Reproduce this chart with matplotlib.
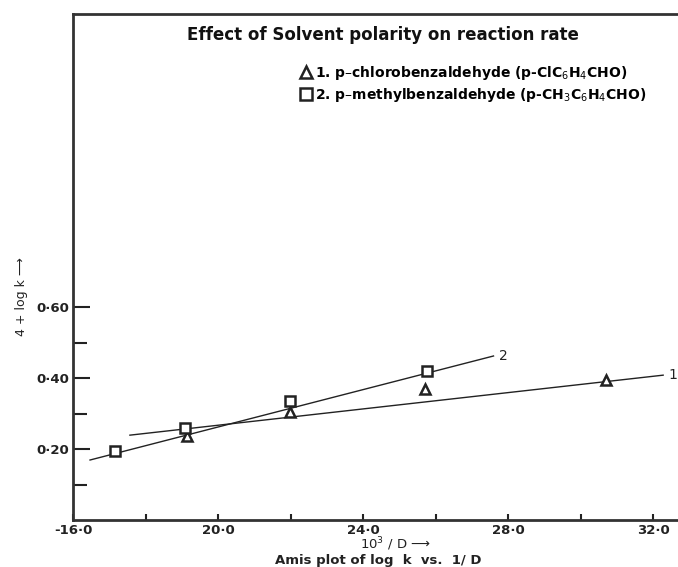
import matplotlib
matplotlib.use("Agg")
import matplotlib.pyplot as plt
from matplotlib.lines import Line2D

# ---- data ----
tri_x = [19.14, 21.99, 25.71, 30.7]
tri_y = [0.237, 0.304, 0.369, 0.394]
sq_x = [17.16, 19.09, 21.99, 25.77]
sq_y = [0.194, 0.259, 0.335, 0.420]
line1_x = [17.57, 32.28]
line1_y = [0.239, 0.408]
line2_x = [16.47, 27.6]
line2_y = [0.169, 0.462]
x_major = [16, 20, 24, 28, 32]
x_labels = ["-16·0", "20·0", "24·0", "28·0", "32·0"]
x_minor = [18, 22, 26, 30]
y_major = [0.2, 0.4, 0.6]
y_labels = ["0·20", "0·40", "0·60"]
y_minor = [0.1, 0.3, 0.5]

plt.rcParams['font.family'] = ['DejaVu Sans']
plt.rcParams['mathtext.fontset'] = 'dejavusans'
fig = plt.figure(figsize=(6.78, 5.67), dpi=100)
ax = fig.add_axes([73/678, 47/567, 605/678, 506/567])
ax.set_xlim(16, 16 + 605/36.25)
ax.set_ylim(0, 506/355)

ink = '#222222'
ax.plot(line1_x, line1_y, color=ink, lw=1.0)
ax.plot(line2_x, line2_y, color=ink, lw=1.0)
ax.plot(tri_x, tri_y, ls='none', marker='^', ms=7, mfc='white', mec=ink, mew=1.8)
ax.plot(sq_x, sq_y, ls='none', marker='s', ms=7, mfc='white', mec=ink, mew=1.8)
ax.text(line1_x[-1] + 0.15, line1_y[-1], "1", fontsize=10, va='center', ha='left', color=ink)
ax.text(line2_x[-1] + 0.15, line2_y[-1], "2", fontsize=10, va='center', ha='left', color=ink)

for s in ['right']:
    ax.spines[s].set_visible(False)
for s in ['left', 'bottom', 'top']:
    ax.spines[s].set_linewidth(2.0)
    ax.spines[s].set_color('#333333')

ax.set_xticks(x_major)
ax.set_xticklabels(x_labels, fontsize=9.5, fontweight='bold')
ax.set_xticks(x_minor, minor=True)
ax.set_yticks(y_major)
ax.set_yticklabels(y_labels, fontsize=9.5, fontweight='bold')
ax.set_yticks(y_minor, minor=True)
ax.tick_params(axis='x', which='both', direction='in', length=4, width=1.5, pad=3, colors=ink)
ax.tick_params(axis='y', which='major', direction='in', length=12, width=1.5, pad=3, colors=ink)
ax.tick_params(axis='y', which='minor', direction='in', length=10, width=1.5, colors=ink)

fig.text(22/678, 1 - 297/567, "4 + log k \u27f6", rotation=90, fontsize=9,
         ha='center', va='center', color=ink)
fig.text(395/678, 1 - 544/567, "10$^3$ / D \u27f6", fontsize=9.5, ha='center', va='center',
         color=ink)
fig.text(378/678, 1 - 560.5/567, "Amis plot of log  k  vs.  1/ D", fontsize=9.5, fontweight='bold',
         ha='center', va='center', color=ink)

fig.text(383/678, 1 - 35/567, "Effect of Solvent polarity on reaction rate", fontsize=12,
         fontweight='bold', ha='center', va='center', color='#111111')

handles = [Line2D([], [], ls='none', marker='^', ms=8, mfc='white', mec=ink, mew=1.8),
           Line2D([], [], ls='none', marker='s', ms=8, mfc='white', mec=ink, mew=1.8)]
labels = ["1. p\u2013chlorobenzaldehyde (p-ClC$_6$H$_4$CHO)",
          "2. p\u2013methylbenzaldehyde (p-CH$_3$C$_6$H$_4$CHO)"]
fig.legend(handles, labels, loc='center left', bbox_to_anchor=(300/678, 1 - 84/567),
           frameon=False, handlelength=0.8, handletextpad=0.3, labelspacing=0.3,
           prop={'size': 10, 'weight': 'bold'}, borderpad=0, borderaxespad=0)

fig.savefig("out.png", dpi=100)
